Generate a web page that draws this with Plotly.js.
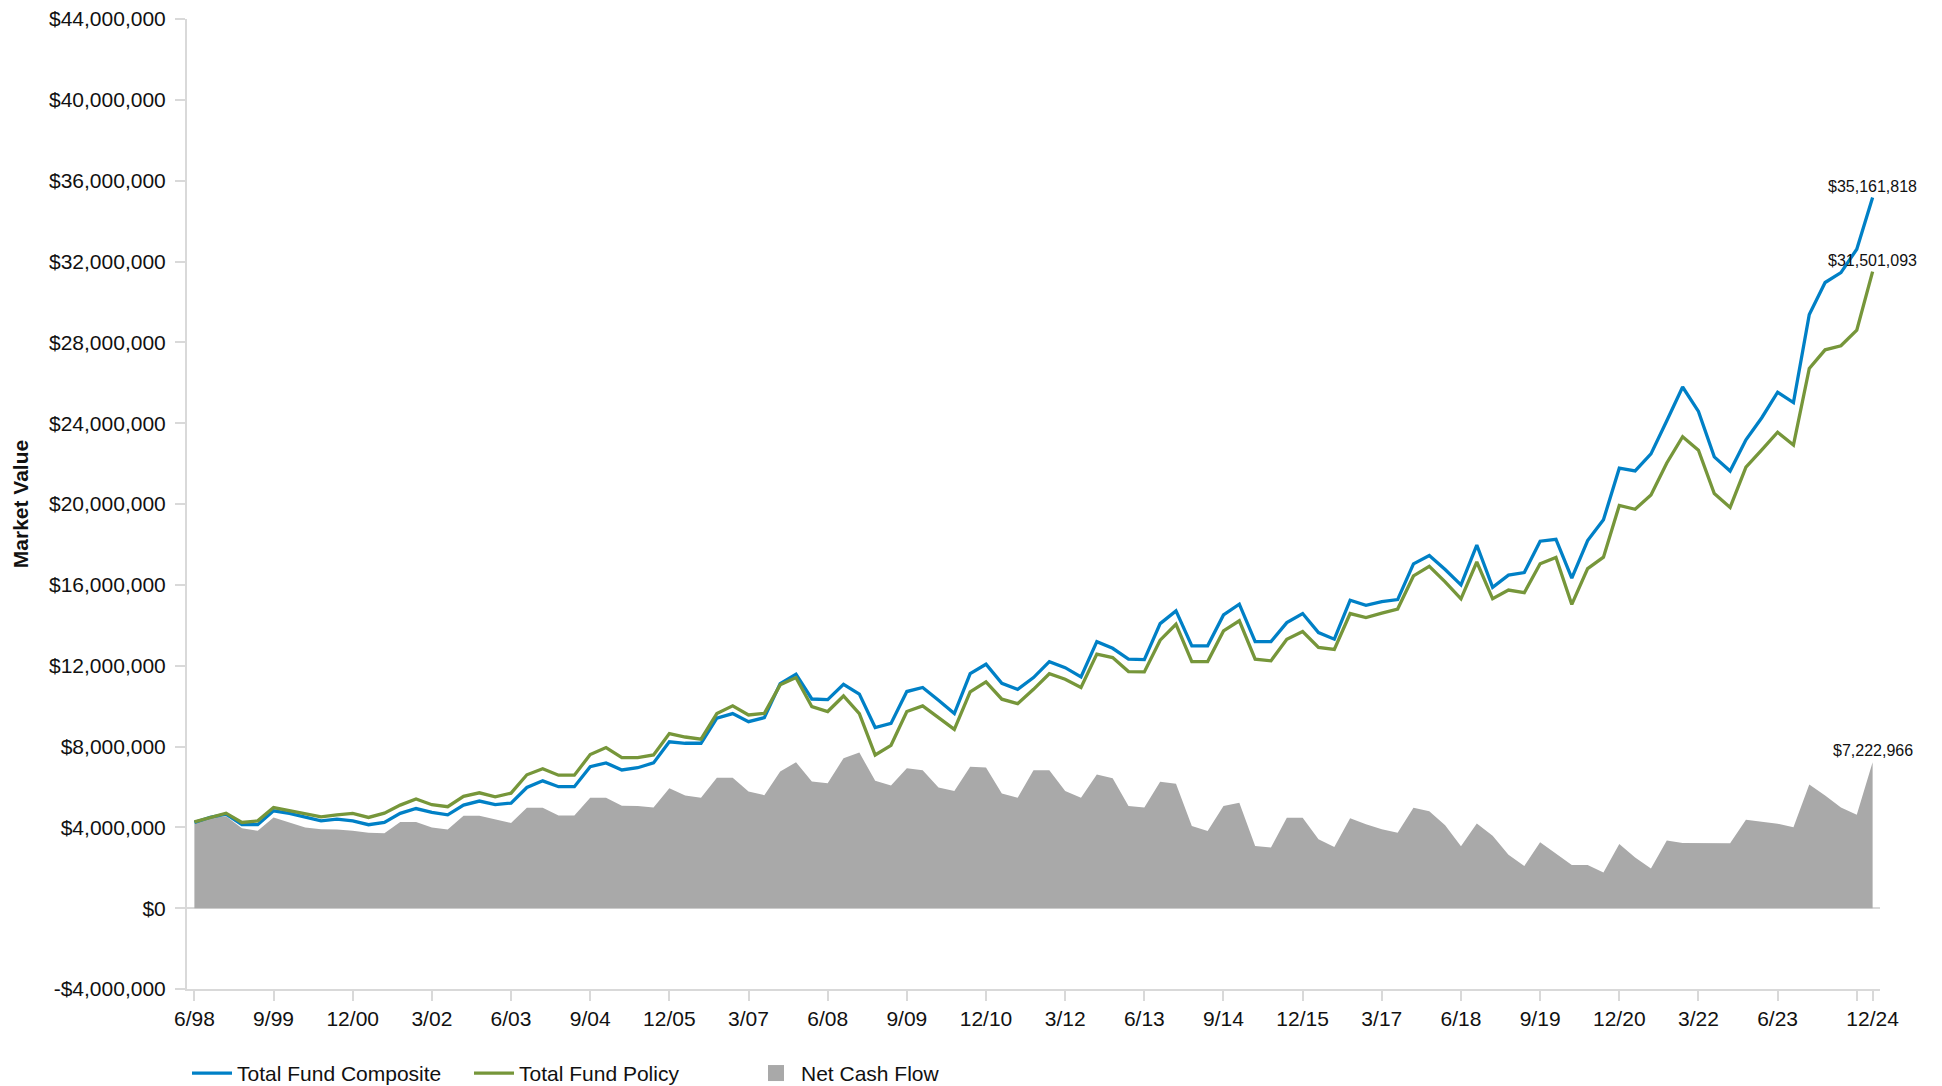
<!DOCTYPE html>
<html>
<head>
<meta charset="utf-8">
<script src="https://cdn.plot.ly/plotly-3.0.1.min.js"></script>
<style>
html,body{margin:0;padding:0;background:#fff;}
#chart{width:1942px;height:1086px;}
</style>
</head>
<body>
<div id="chart"></div>
<script>
const quarters = [
 '6/98','9/98','12/98',
 '3/99','6/99','9/99','12/99',
 '3/00','6/00','9/00','12/00',
 '3/01','6/01','9/01','12/01',
 '3/02','6/02','9/02','12/02',
 '3/03','6/03','9/03','12/03',
 '3/04','6/04','9/04','12/04',
 '3/05','6/05','9/05','12/05',
 '3/06','6/06','9/06','12/06',
 '3/07','6/07','9/07','12/07',
 '3/08','6/08','9/08','12/08',
 '3/09','6/09','9/09','12/09',
 '3/10','6/10','9/10','12/10',
 '3/11','6/11','9/11','12/11',
 '3/12','6/12','9/12','12/12',
 '3/13','6/13','9/13','12/13',
 '3/14','6/14','9/14','12/14',
 '3/15','6/15','9/15','12/15',
 '3/16','6/16','9/16','12/16',
 '3/17','6/17','9/17','12/17',
 '3/18','6/18','9/18','12/18',
 '3/19','6/19','9/19','12/19',
 '3/20','6/20','9/20','12/20',
 '3/21','6/21','9/21','12/21',
 '3/22','6/22','9/22','12/22',
 '3/23','6/23','9/23','12/23',
 '3/24','6/24','9/24','12/24'
];

const totalFundComposite = [
 4240000,4500000,4650000,4130000,4130000,4820000,4690000,4520000,4320000,4410000,
 4320000,4130000,4240000,4690000,4930000,4740000,4620000,5100000,5300000,5120000,
 5200000,5970000,6300000,6010000,6010000,7000000,7190000,6840000,6950000,7190000,
 8230000,8160000,8160000,9400000,9630000,9230000,9430000,11110000,11580000,10350000,
 10320000,11080000,10590000,8940000,9140000,10720000,10920000,10290000,9630000,11610000,
 12070000,11130000,10830000,11410000,12200000,11900000,11440000,13190000,12860000,12320000,
 12300000,14080000,14710000,12980000,12980000,14510000,15040000,13190000,13190000,14130000,
 14580000,13640000,13310000,15240000,14990000,15170000,15270000,17040000,17450000,16760000,
 16000000,17970000,15880000,16480000,16610000,18160000,18250000,16330000,18190000,19220000,
 21770000,21640000,22480000,24120000,25790000,24580000,22330000,21630000,23180000,24270000,
 25530000,25020000,29380000,30960000,31450000,32610000,35161818
];

const totalFundPolicy = [
 4270000,4500000,4700000,4240000,4320000,4980000,4820000,4700000,4520000,4620000,
 4690000,4490000,4700000,5100000,5400000,5120000,5020000,5530000,5710000,5510000,
 5690000,6600000,6900000,6580000,6580000,7600000,7950000,7450000,7450000,7580000,
 8640000,8470000,8360000,9630000,10010000,9560000,9640000,11050000,11410000,9970000,
 9730000,10500000,9630000,7580000,8060000,9730000,10010000,9430000,8850000,10700000,
 11200000,10340000,10120000,10830000,11600000,11330000,10920000,12570000,12400000,11710000,
 11690000,13260000,14050000,12200000,12200000,13720000,14220000,12320000,12240000,13310000,
 13690000,12900000,12800000,14580000,14380000,14600000,14800000,16440000,16910000,16150000,
 15310000,17130000,15310000,15740000,15610000,17040000,17360000,15030000,16800000,17370000,
 19930000,19740000,20450000,22030000,23330000,22660000,20520000,19830000,21820000,22680000,
 23550000,22920000,26710000,27630000,27830000,28600000,31501093
];

const netCashFlow = [
 4190000,4490000,4550000,3960000,3830000,4490000,4240000,3990000,3910000,3890000,
 3830000,3730000,3710000,4270000,4270000,3990000,3890000,4570000,4570000,4410000,
 4220000,4970000,4970000,4590000,4590000,5470000,5470000,5070000,5060000,4980000,
 5940000,5570000,5470000,6450000,6450000,5770000,5590000,6760000,7220000,6270000,
 6180000,7420000,7700000,6300000,6070000,6920000,6830000,5970000,5800000,7000000,
 6960000,5670000,5470000,6820000,6820000,5800000,5470000,6620000,6430000,5060000,
 4980000,6260000,6160000,4070000,3820000,5060000,5220000,3080000,3000000,4480000,
 4480000,3410000,3030000,4450000,4150000,3900000,3730000,4970000,4790000,4100000,
 3070000,4190000,3580000,2640000,2090000,3260000,2700000,2140000,2140000,1770000,
 3170000,2510000,1960000,3350000,3220000,3220000,3210000,3210000,4370000,4290000,
 4180000,4010000,6120000,5570000,4980000,4620000,7222966
];

const xTickVals = ['6/98','9/99','12/00','3/02','6/03','9/04','12/05','3/07','6/08','9/09','12/10','3/12','6/13','9/14','12/15','3/17','6/18','9/19','12/20','3/22','6/23','9/24','12/24'];
const xTickText = ['6/98','9/99','12/00','3/02','6/03','9/04','12/05','3/07','6/08','9/09','12/10','3/12','6/13','9/14','12/15','3/17','6/18','9/19','12/20','3/22','6/23','','12/24'];

const yTickVals = [-4000000,0,4000000,8000000,12000000,16000000,20000000,24000000,28000000,32000000,36000000,40000000,44000000];
const yTickText = ['-$4,000,000','$0','$4,000,000','$8,000,000','$12,000,000','$16,000,000','$20,000,000','$24,000,000','$28,000,000','$32,000,000','$36,000,000','$40,000,000','$44,000,000'];

const seriesNames = ['Total Fund Composite','Total Fund Policy','Net Cash Flow'];
const colors = {composite:'rgb(0,128,198)', policy:'rgb(118,150,58)', cash:'rgb(169,169,169)'};

const FONT = 'Arial, "Liberation Sans", Helvetica, sans-serif';
const axisGrey = '#d9d9d9';

const traces = [
  {
    x: quarters, y: netCashFlow, name: seriesNames[2], type: 'scatter', mode: 'lines',
    fill: 'tozeroy', fillcolor: colors.cash, line: {color: colors.cash, width: 0},
    showlegend: false, legendgroup: 'cash', hoverinfo: 'skip'
  },
  {
    x: quarters, y: totalFundComposite, name: seriesNames[0], type: 'scatter', mode: 'lines',
    line: {color: colors.composite, width: 3.3}, legendrank: 1
  },
  {
    x: quarters, y: totalFundPolicy, name: seriesNames[1], type: 'scatter', mode: 'lines',
    line: {color: colors.policy, width: 3.3}, legendrank: 2
  },
  {
    // legend key only for the net cash flow area (square swatch)
    x: [null], y: [null], name: seriesNames[2], type: 'scatter', mode: 'markers',
    marker: {symbol: 'square', size: 16, color: colors.cash},
    legendgroup: 'cash', legendrank: 3, hoverinfo: 'skip'
  }
];

function money(v){ return '$' + Math.round(v).toLocaleString('en-US'); }
const last = quarters.length - 1;
const endSeries = [totalFundComposite, totalFundPolicy, netCashFlow];
const annotations = endSeries.map(s => ({
  x: quarters[last], y: s[last], xref: 'x', yref: 'y',
  text: money(s[last]), showarrow: false, yanchor: 'bottom', xanchor: 'center',
  yshift: 1, font: {family: FONT, size: 16, color: '#111'}
}));

const layout = {
  width: 1942, height: 1086,
  margin: {l: 187, r: 62, t: 19, b: 97, pad: 0, autoexpand: false},
  paper_bgcolor: '#fff', plot_bgcolor: '#fff',
  font: {family: FONT, size: 21, color: '#111'},
  showlegend: true,
  legend: {
    orientation: 'h', x: 0, xanchor: 'left', y: -0.087, yanchor: 'middle',
    font: {family: FONT, size: 21, color: '#111'},
    itemwidth: 40, entrywidth: 227, traceorder: 'normal', bgcolor: 'rgba(0,0,0,0)'
  },
  xaxis: {
    type: 'category', range: [-0.467, last + 0.467],
    tickmode: 'array', tickvals: xTickVals, ticktext: xTickText,
    showgrid: false, zeroline: false,
    showline: true, linecolor: axisGrey, linewidth: 2,
    ticks: 'outside', ticklen: 10, tickwidth: 2, tickcolor: axisGrey,
    tickfont: {family: FONT, size: 21, color: '#111'},
    automargin: false, fixedrange: true
  },
  yaxis: {
    range: [-4000000, 44000000],
    tickmode: 'array', tickvals: yTickVals, ticktext: yTickText,
    showgrid: false,
    zeroline: true, zerolinecolor: axisGrey, zerolinewidth: 2,
    showline: true, linecolor: axisGrey, linewidth: 2,
    ticks: 'outside', ticklen: 10, tickwidth: 2, tickcolor: axisGrey,
    ticklabelstandoff: 5,
    tickfont: {family: FONT, size: 21, color: '#111'},
    title: {text: '<b>Market Value</b>', font: {family: FONT, size: 21, color: '#111'}, standoff: 15},
    automargin: false, fixedrange: true
  },
  annotations: annotations
};

Plotly.newPlot('chart', traces, layout, {displayModeBar: false, staticPlot: true});
</script>
</body>
</html>
